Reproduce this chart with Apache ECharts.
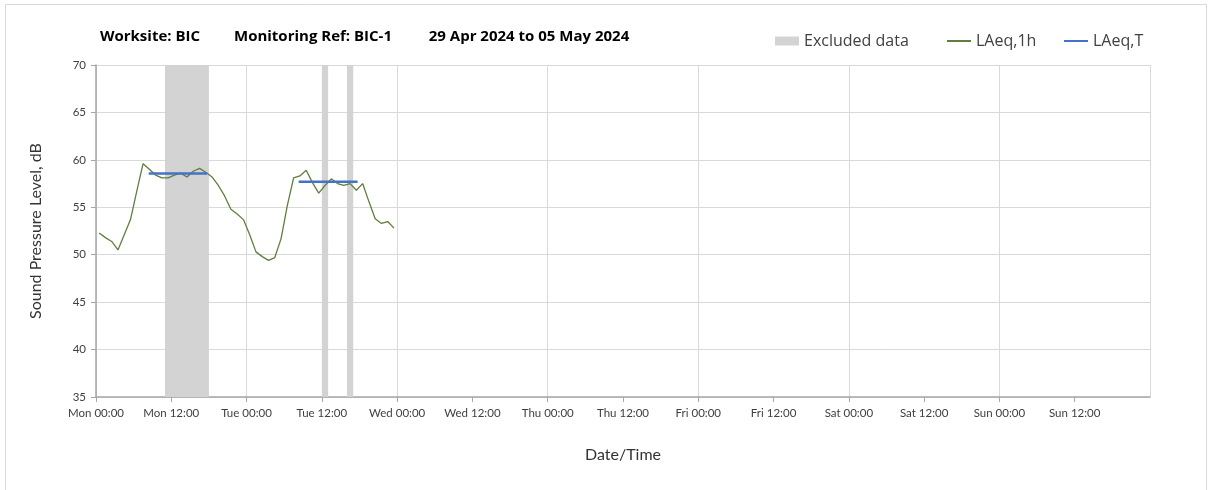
<!DOCTYPE html>
<html>
<head>
<meta charset="utf-8">
<script src="https://cdn.jsdelivr.net/npm/echarts@6/dist/echarts.min.js"></script>
<style>
  html, body { margin: 0; padding: 0; background: #fff; }
  #chart { width: 1208px; height: 490px; }
</style>
</head>
<body>
<div id="chart"></div>
<script>
// hours from Mon 29 Apr 2024 00:00
const dayNames = ['Mon', 'Tue', 'Wed', 'Thu', 'Fri', 'Sat', 'Sun']
const hourTimes = [
  0.5, 1.5, 2.5, 3.5, 4.5, 5.5, 6.5, 7.5, 8.5, 9.5, 10.5, 11.5,
  12.5, 13.5, 14.5, 15.5, 16.5, 17.5, 18.5, 19.5, 20.5, 21.5, 22.5, 23.5,
  24.5, 25.5, 26.5, 27.5, 28.5, 29.5, 30.5, 31.5, 32.5, 33.5, 34.5, 35.5,
  36.5, 37.5, 38.5, 39.5, 40.5, 41.5, 42.5, 43.5, 44.5, 45.5, 46.5, 47.5
]
const laeq1h = [
  52.3, 51.8, 51.4, 50.5, 52.1, 53.7, 56.7, 59.6, 59.0, 58.4, 58.1, 58.1,
  58.4, 58.6, 58.2, 58.8, 59.1, 58.7, 58.2, 57.3, 56.2, 54.8, 54.3, 53.7,
  52.1, 50.3, 49.8, 49.4, 49.7, 51.7, 55.2, 58.1, 58.3, 58.9, 57.6, 56.5,
  57.3, 58.0, 57.5, 57.3, 57.5, 56.8, 57.5, 55.6, 53.8, 53.3, 53.5, 52.8
]
const periodStart = [8.4, 32.3]
const periodEnd = [17.7, 41.7]
const periodLevel = [58.55, 57.7]
const excludedStart = [11, 36, 40]
const excludedEnd = [18, 37, 41]

const titleParts = ['Worksite: BIC', 'Monitoring Ref: BIC-1', '29 Apr 2024 to 05 May 2024']
const legendNames = ['Excluded data', 'LAeq,1h', 'LAeq,T']
const fontFamily = 'Lato, "Open Sans", sans-serif'
const headFont = '"Open Sans", Lato, sans-serif'

const chart = echarts.init(document.getElementById('chart'))

const periodSeries = periodStart.map((s, i) => ({
  name: 'LAeq,T',
  type: 'line',
  xAxisIndex: 0,
  symbol: 'none',
  z: 4,
  lineStyle: { color: '#4472C4', width: 2.5 },
  itemStyle: { color: '#4472C4' },
  data: [[s, periodLevel[i]], [periodEnd[i], periodLevel[i]]],
}))

// title pieces are centred where the reference puts them
const titleCenter = [150, 313, 529]
const legendLeft = [775, 946, 1063]

const option = {
  animation: false,
  backgroundColor: '#fff',
  textStyle: { fontFamily },
  graphic: [{
    type: 'rect',
    shape: { x: 5.5, y: 4.5, width: 1201, height: 500 },
    style: { fill: 'none', stroke: '#d9d9d9', lineWidth: 1 },
    silent: true,
    z: -10,
  }, ...titleParts.map((t, i) => ({
    type: 'text',
    x: titleCenter[i],
    y: 37,
    silent: true,
    style: {
      text: t,
      align: 'center',
      verticalAlign: 'middle',
      fill: '#000',
      font: 'bold 15px ' + headFont,
    },
  }))],
  legend: legendNames.map((n, i) => ({
    left: legendLeft[i] - 5,
    top: 28,
    itemWidth: 24,
    itemHeight: 9,
    itemGap: 4,
    textStyle: { fontSize: 16, color: '#404040', fontFamily: headFont },
    data: [i === 0 ? { name: n, icon: 'rect' } : { name: n, itemStyle: { opacity: 0 } }],
  })),
  grid: { left: 96, right: 58, top: 65, bottom: 93 },
  xAxis: [{
    type: 'value',
    min: 0,
    max: 168,
    interval: 12,
    name: 'Date/Time',
    nameLocation: 'middle',
    nameGap: 50,
    nameTextStyle: { fontSize: 16, color: '#333', fontFamily },
    axisLine: { show: true, lineStyle: { color: '#a6a6a6', width: 1.5 } },
    axisTick: { show: true, length: 5, lineStyle: { color: '#a6a6a6' } },
    axisLabel: {
      fontSize: 11.5,
      color: '#404040',
      margin: 10,
      showMaxLabel: false,
      formatter: (v) => dayNames[Math.floor(v / 24) % 7] + ' ' + (v % 24 === 0 ? '00:00' : '12:00'),
    },
    splitLine: { show: false },
  }, {
    type: 'value',
    min: 0,
    max: 168,
    interval: 24,
    position: 'bottom',
    axisLine: { show: false },
    axisTick: { show: false },
    axisLabel: { show: false },
    splitLine: { show: true, lineStyle: { color: '#d9d9d9', width: 1 } },
  }],
  yAxis: {
    type: 'value',
    min: 35,
    max: 70,
    interval: 5,
    name: 'Sound Pressure Level, dB',
    nameLocation: 'middle',
    nameGap: 52,
    nameTextStyle: { fontSize: 16, color: '#333', fontFamily },
    axisLine: { show: true, lineStyle: { color: '#a6a6a6', width: 1.5 } },
    axisTick: { show: true, length: 5, lineStyle: { color: '#a6a6a6' } },
    axisLabel: { fontSize: 11.5, color: '#404040', margin: 10 },
    splitLine: { show: true, lineStyle: { color: '#d9d9d9', width: 1 } },
  },
  series: [{
    name: 'Excluded data',
    type: 'custom',
    xAxisIndex: 0,
    z: 1,
    itemStyle: { color: '#d3d3d3' },
    data: excludedStart.map((s, i) => [s, excludedEnd[i]]),
    renderItem: (params, api) => {
      const p0 = api.coord([api.value(0), 70])
      const p1 = api.coord([api.value(1), 35])
      return {
        type: 'rect',
        shape: { x: p0[0], y: p0[1], width: p1[0] - p0[0], height: p1[1] - p0[1] },
        style: { fill: '#d3d3d3' },
      }
    },
  }, {
    name: 'LAeq,1h',
    type: 'line',
    xAxisIndex: 0,
    symbol: 'none',
    z: 3,
    lineStyle: { color: '#5E7F3E', width: 1.3 },
    itemStyle: { color: '#5E7F3E' },
    data: hourTimes.map((t, i) => [t, laeq1h[i]]),
  }, ...periodSeries],
}

chart.setOption(option)
window.addEventListener('resize', () => chart && chart.resize())
</script>
</body>
</html>
